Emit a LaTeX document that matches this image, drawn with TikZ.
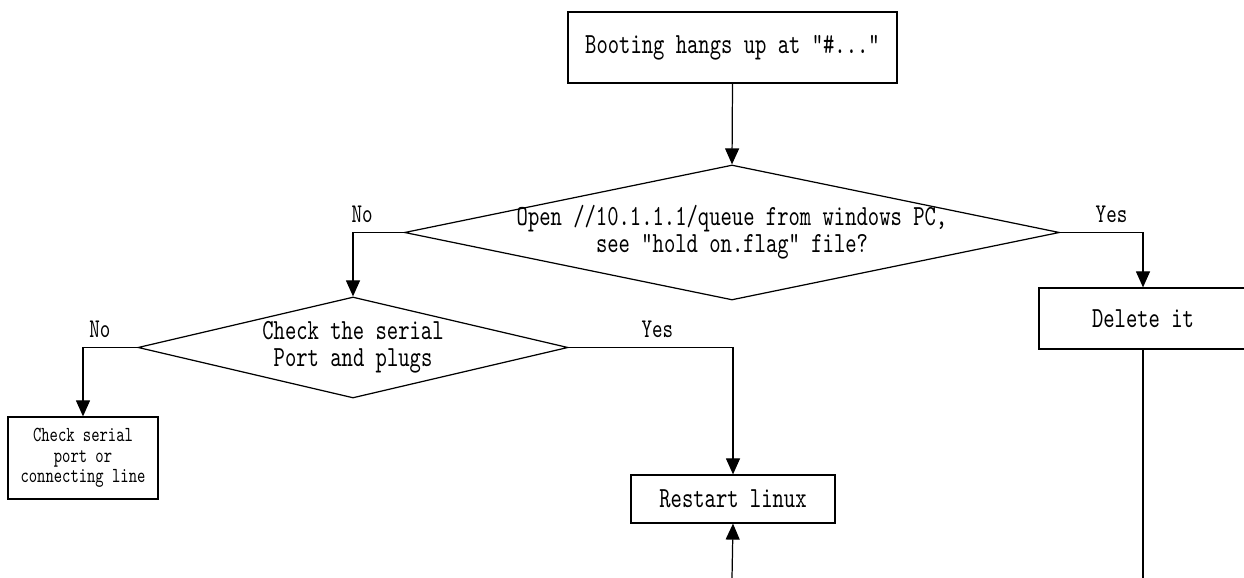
\documentclass[tikz,border=0pt]{standalone}
\usepackage{fontspec}
\newfontfamily\flowfont{lmmono10-regular.otf}[FakeStretch=0.74]
\usetikzlibrary{shapes.geometric,arrows.meta}

\begin{document}
\begin{tikzpicture}[
        every path/.style={>={Triangle[length=1.6mm,width=1.4mm]}},
        line width=0.35pt,
        font=\flowfont\fontsize{8.3}{7.7}\selectfont,
        box/.style={draw,rectangle,inner sep=0pt,align=center},
        decision/.style={draw,diamond,inner sep=0pt},
        answer/.style={inner sep=0pt,text depth=0pt,font=\flowfont\fontsize{7.7}{7.7}\selectfont}
        ]

        \useasboundingbox (0,0) rectangle (12.44,-5.78);

        % nodes
        \node[box,minimum width=3.29cm,minimum height=0.71cm] (boot) at (7.325,-0.475) {Booting hangs up at "\#..."};

        \node[decision,minimum width=6.55cm,minimum height=1.35cm,
              label={[align=center]center:{Open //10.1.1.1/queue from windows PC,\\see "hold on.flag" file?}}] (open) at (7.32,-2.325) {};

        \node[decision,minimum width=4.30cm,minimum height=1.01cm,
              label={[align=center]center:{Check the serial\\Port and plugs}}] (serial) at (3.53,-3.475) {};

        \node[box,minimum width=1.50cm,minimum height=0.82cm,
              font=\flowfont\fontsize{6.1}{5.9}\selectfont] (chk) at (0.83,-4.58) {Check serial\\port or\\connecting line};
        \node[box,minimum width=2.04cm,minimum height=0.48cm] (restart) at (7.33,-4.99) {Restart linux};
        \node[box,minimum width=2.08cm,minimum height=0.61cm] (del) at (11.43,-3.185) {Delete it};

        \coordinate (rin) at (7.32,-5.78);
        \coordinate (dout) at (11.43,-5.78);

        % edges
        \draw[->] (boot.south) -- (open.north);
        \draw[->] (open.west) -| node[answer,pos=0.41,above=2.8pt] (no1) {No} (serial.north);
        \draw[->] (open.east) -| node[answer,pos=0.31,above=2.8pt] (yes1) {Yes} (del.north);
        \draw[->] (serial.west) -| node[answer,pos=0.345,above=2.8pt] (no2) {No} (chk.north);
        \draw[->] (serial.east) -| node[answer,pos=0.27,above=2.8pt] (yes2) {Yes} (restart.north);

        \draw[->] (rin) -- (restart.south);
        \draw (del.south) -- (dout);

    \end{tikzpicture}
\end{document}
